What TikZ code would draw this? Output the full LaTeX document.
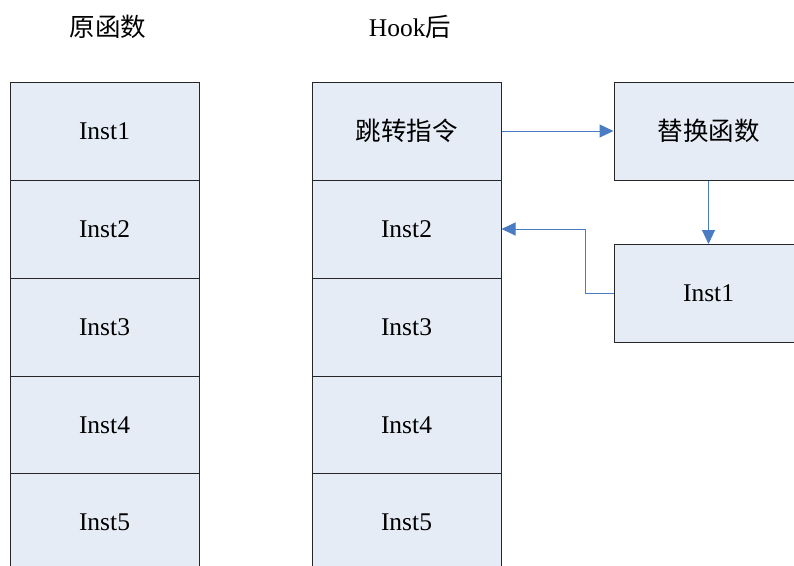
\documentclass[tikz,border=0pt]{standalone}
\usepackage{fontspec}
\setmainfont{Liberation Serif}
\newfontfamily\cjk{Noto Sans CJK SC}
\usetikzlibrary{arrows.meta}
\definecolor{cellfill}{HTML}{E6ECF6}
\definecolor{linkblue}{HTML}{4A7CC4}
\begin{document}
\begin{tikzpicture}[x=1pt,y=-1pt,
  cell/.style={draw=black!85,line width=1pt,fill=cellfill,minimum width=189pt,
    minimum height=98pt,inner sep=0pt,font=\fontsize{25.5}{30}\selectfont},
  title/.style={font=\fontsize{25.5}{30}\selectfont},
  link/.style={draw=linkblue,line width=1pt,-{Triangle[width=13pt,length=14pt]}}]
\useasboundingbox (0,0) rectangle (794,565);
\clip (0,0) rectangle (794,565);
% column titles
\node[title] (t1) at (108,27) {\cjk 原函数};
\node[title] (t2) at (410,27) {Hook{\cjk 后}};
% original function
\node[cell] (a1) at (104.5,131) {Inst1};
\node[cell] (a2) at (104.5,229) {Inst2};
\node[cell] (a3) at (104.5,327) {Inst3};
\node[cell] (a4) at (104.5,425) {Inst4};
\node[cell] (a5) at (104.5,522) {Inst5};
% hooked function
\node[cell] (b1) at (406.5,131) {\cjk 跳转指令};
\node[cell] (b2) at (406.5,229) {Inst2};
\node[cell] (b3) at (406.5,327) {Inst3};
\node[cell] (b4) at (406.5,425) {Inst4};
\node[cell] (b5) at (406.5,522) {Inst5};
% replacement function and relocated instruction
\node[cell] (c1) at (708.5,131) {\cjk 替换函数};
\node[cell] (c2) at (708.5,293.5) {Inst1};
% control flow
\draw[link] (b1.east) -- (c1.west);
\draw[link] (c1.south) -- (c2.north);
\draw[link] (c2.west) -- ++(-28,0) |- (b2.east);
\end{tikzpicture}
\end{document}
